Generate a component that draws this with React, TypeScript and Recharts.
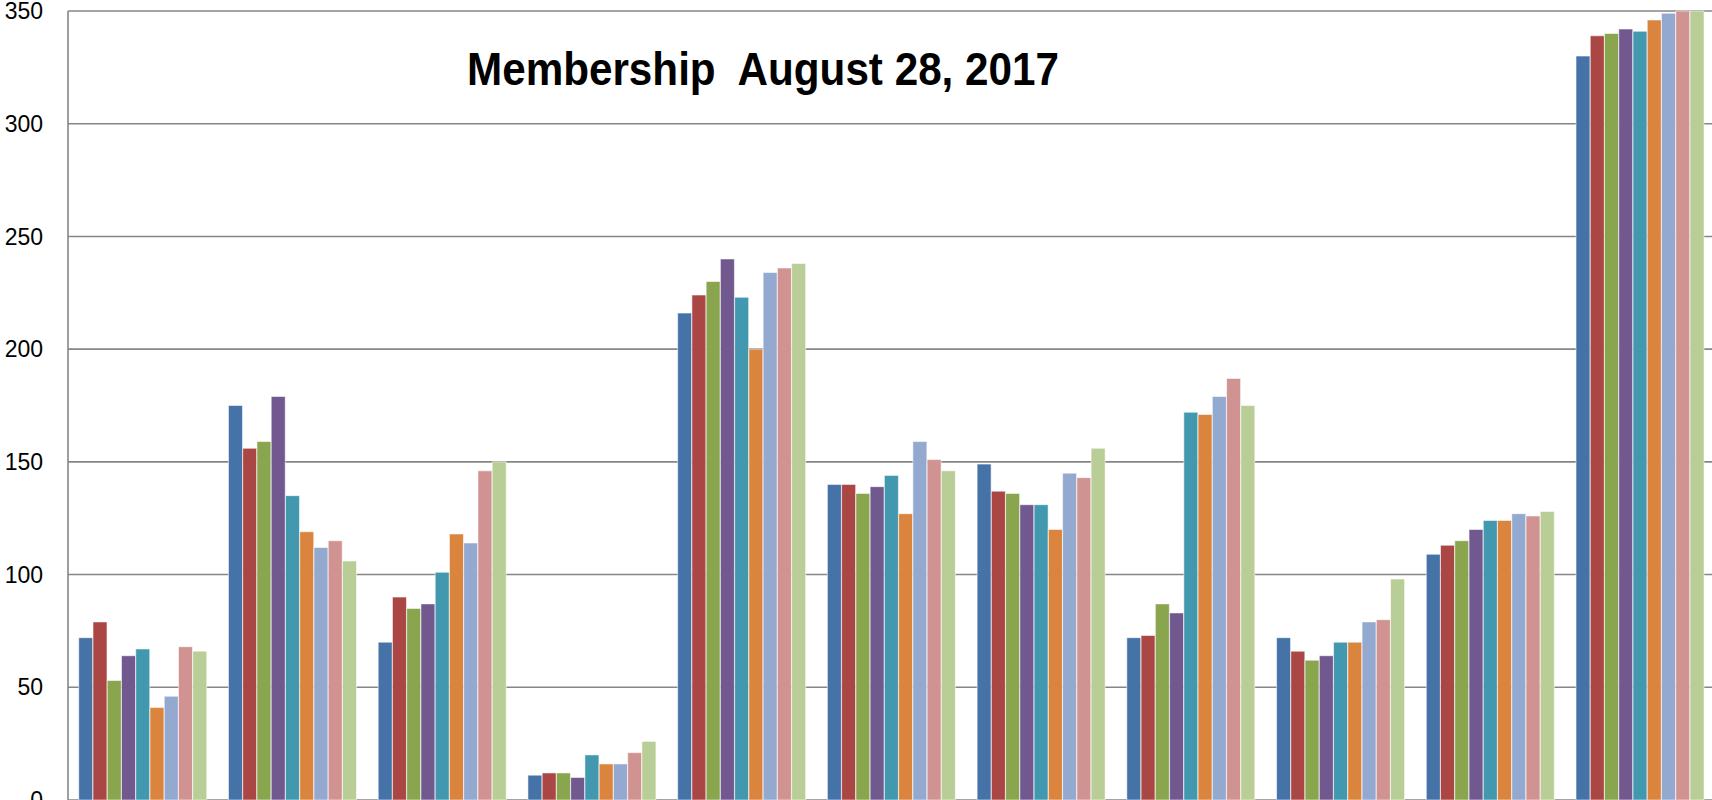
import { BarChart, Bar, XAxis, YAxis, CartesianGrid } from "recharts";

// categories are below the visible crop, so their names are placeholders
const categories = ["A", "B", "C", "D", "E", "F", "G", "H", "I", "J", "K"];
const seriesNames = ["2009", "2010", "2011", "2012", "2013", "2014", "2015", "2016", "2017"];
const seriesColors = [
    "#4572A7", "#AA4643", "#89A54E", "#71588F", "#4198AF",
    "#DB843D", "#93A9CF", "#D19392", "#B9CD96",
];

// one row per category, one value per series (in seriesNames order)
const values = [
    [72, 79, 53, 64, 67, 41, 46, 68, 66],
    [175, 156, 159, 179, 135, 119, 112, 115, 106],
    [70, 90, 85, 87, 101, 118, 114, 146, 150],
    [11, 12, 12, 10, 20, 16, 16, 21, 26],
    [216, 224, 230, 240, 223, 200, 234, 236, 238],
    [140, 140, 136, 139, 144, 127, 159, 151, 146],
    [149, 137, 136, 131, 131, 120, 145, 143, 156],
    [72, 73, 87, 83, 172, 171, 179, 187, 175],
    [72, 66, 62, 64, 70, 70, 79, 80, 98],
    [109, 113, 115, 120, 124, 124, 127, 126, 128],
    [330, 339, 340, 342, 341, 346, 349, 350, 350],
];

const yTicks = [0, 50, 100, 150, 200, 250, 300, 350];

const chartData = categories.map((c, i) => {
    const row: Record<string, string | number> = { name: c };
    seriesNames.forEach((s, j) => {
        row[s] = values[i][j];
    });
    return row;
});

const GRID = "#868686";

export default function App() {
    return (
        <div style={{
            position: "fixed", left: 0, top: 0, width: 1712, height: 800,
            overflow: "hidden", background: "#fff",
        }}>
            <BarChart
                width={1730}
                height={820}
                data={chartData}
                margin={{ top: 11, right: 15, left: 0, bottom: 20 }}
                barCategoryGap={10.75}
                barGap={0.25}
            >
                <CartesianGrid vertical={false} stroke={GRID} strokeWidth={1.6} />
                <XAxis dataKey="name" hide />
                <YAxis
                    domain={[0, 350]}
                    ticks={yTicks}
                    width={68}
                    tickSize={0}
                    tickMargin={25}
                    axisLine={{ stroke: GRID, strokeWidth: 1.6 }}
                    tickLine={false}
                    tick={{ fill: "#000", fontSize: 23, fontFamily: "Liberation Sans, Arial, sans-serif" }}
                    interval={0}
                />
                {seriesNames.map((s, j) => (
                    <Bar
                        key={s}
                        dataKey={s}
                        fill={seriesColors[j]}
                        stroke="rgba(255,255,255,0.55)"
                        strokeWidth={1}
                        isAnimationActive={false}
                    />
                ))}
            </BarChart>

            {/* chart title */}
            <svg width={1712} height={120} style={{ position: "absolute", left: 0, top: 0, pointerEvents: "none" }}>
                <text
                    x={467}
                    y={85}
                    fontFamily="Liberation Sans, Arial, sans-serif"
                    fontWeight="bold"
                    fontSize={47}
                    textLength={592}
                    lengthAdjust="spacingAndGlyphs"
                    fill="#000"
                    style={{ whiteSpace: "pre" }}
                >
                    {"Membership  August 28, 2017"}
                </text>
            </svg>
        </div>
    );
}
